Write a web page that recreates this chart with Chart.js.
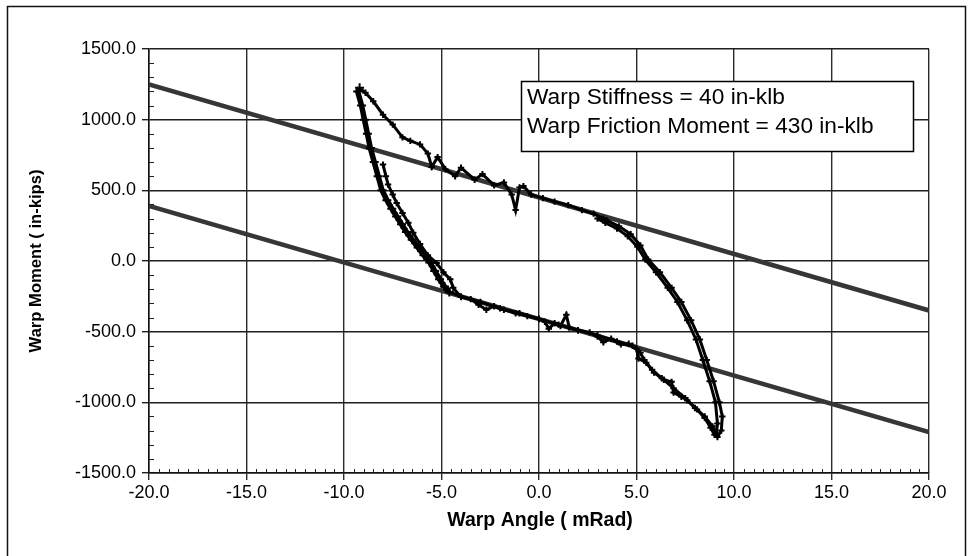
<!DOCTYPE html>
<html>
<head>
<meta charset="utf-8">
<script src="https://cdn.jsdelivr.net/npm/chart.js@4.4.1/dist/chart.umd.min.js"></script>
<style>
  html, body { margin: 0; padding: 0; background: #ffffff; }
  #wrap { width: 974px; height: 556px; position: relative; }
</style>
</head>
<body>
<div id="wrap"><canvas id="c" width="974" height="556"></canvas></div>
<script>
// ---- Data ----
const xTickValues = [-20, -15, -10, -5, 0, 5, 10, 15, 20];
const yTickValues = [-1500, -1000, -500, 0, 500, 1000, 1500];

// Model lines: stiffness 40 in-klb, friction moment 430 in-klb
const modelX = [-20, 20];
const upperModelY = [1250, -350];
const lowerModelY = [390, -1210];

// Measured hysteresis loop (Warp Angle mRad, Warp Moment in-kips)
const loopX = [
  -8.0,-7.85,-7.74,-7.5,-7.3,-7.0,-6.7,-6.45,-6.1,-5.7,-5.25,-4.9,-4.55,-4.4,
  -4.0,-3.5,-3.1,-2.7,-2.3,-1.8,-1.2,-0.6,0.0,0.3,0.5,0.8,1.1,1.4,1.55,2.0,2.6,3.0,3.3,3.7,4.2,4.6,5.0,
  5.1,5.5,5.9,6.4,6.8,6.9,7.3,7.6,8.1,8.5,8.8,9.0,9.15,
  9.35,9.4,9.25,8.95,8.6,8.25,7.8,7.3,6.8,6.2,5.6,5.2,4.7,4.1,3.5,3.3,
  2.8,2.2,1.5,0.8,0.2,-0.4,-0.8,-1.0,-1.2,-1.4,-1.8,-2.3,-2.9,-3.3,-4.0,-4.3,-4.8,-5.2,-5.5,-5.7,
  -6.1,-6.6,-7.0,-7.5,-8.0,-8.5,-8.9,-9.2,
  -9.3,-9.1,-8.95,-8.8,-8.65,-8.45,-8.25,-8.05,-7.8,-7.55,-7.3,-7.05,-6.8,-6.5,-6.2,-5.9,-5.6,-5.35,-5.1,-4.85,-4.6,
  -4.0,-3.0,-2.0,-1.0,0.0,1.0,2.0,3.0,4.0,4.8,5.2,
  5.4,5.8,6.3,6.9,7.5,8.0,8.5,8.9,9.1,
  9.15,9.05,8.75,8.4,8.05,7.6,7.1,6.6,6.0,5.45,5.05,4.55,4.0,3.4,3.0
];
const loopY = [
  682,600,541,470,410,340,270,200,120,40,-15,-80,-130,-190,
  -255,-270,-310,-345,-320,-345,-370,-390,-410,-430,-480,-440,-460,-380,-470,-490,-505,-535,-575,-550,-590,-585,-620,
  -690,-720,-790,-840,-855,-930,-960,-985,-1050,-1110,-1180,-1230,-1245,
  -1200,-1100,-1000,-850,-700,-555,-420,-290,-190,-80,10,110,190,245,285,300,
  335,360,395,420,445,470,530,520,360,470,555,535,615,575,660,600,650,735,665,760,
  825,850,875,965,1035,1130,1190,1225,
  1200,1100,1000,900,800,700,600,500,430,370,315,260,205,150,95,40,-10,-70,-130,-180,-220,
  -250,-290,-335,-370,-410,-450,-490,-525,-570,-600,-650,
  -700,-770,-830,-900,-970,-1040,-1100,-1170,-1220,
  -1150,-1000,-850,-700,-555,-420,-290,-190,-80,10,100,175,230,270,300
];
// index range of the heavily over-plotted left branch (many repeated cycles)
const heavyStart = 93, heavyEnd = 114;

const legendLines = ['Warp Stiffness = 40 in-klb', 'Warp Friction Moment = 430 in-klb'];
const xTitle = 'Warp Angle ( mRad)';
const yTitle = 'Warp Moment ( in-kips)';

// ---- Build datasets ----
const toPts = (xs, ys) => xs.map((x, i) => ({ x: x, y: ys[i] }));
const inHeavy = i => i >= heavyStart && i <= heavyEnd;

const FONT = "'Liberation Sans', Arial, Helvetica, sans-serif";

const decor = {
  id: 'decor',
  beforeDraw(chart) {
    const ctx = chart.ctx;
    ctx.save();
    ctx.fillStyle = '#ffffff';
    ctx.fillRect(0, 0, chart.width, chart.height);
    ctx.restore();
  },
  afterDatasetsDraw(chart) {
    const ctx = chart.ctx;
    const xs = chart.scales.x, ys = chart.scales.y;
    const a = chart.chartArea;
    ctx.save();
    // minor ticks
    ctx.strokeStyle = '#222';
    ctx.lineWidth = 1;
    ctx.beginPath();
    for (let v = -1500; v <= 1500; v += 100) {
      if (v % 500 === 0) continue;
      const py = Math.round(ys.getPixelForValue(v)) + 0.5;
      ctx.moveTo(a.left, py); ctx.lineTo(a.left + 5, py);
    }
    for (let v = -20; v <= 20; v += 0.5) {
      if (Math.abs(v % 5) < 1e-9) continue;
      const px = Math.round(xs.getPixelForValue(v)) + 0.5;
      ctx.moveTo(px, a.bottom); ctx.lineTo(px, a.bottom - 4);
    }
    ctx.stroke();

    // legend / annotation box
    ctx.fillStyle = '#ffffff';
    ctx.fillRect(521, 81, 393, 71);
    ctx.strokeStyle = '#000';
    ctx.lineWidth = 1.5;
    ctx.strokeRect(521.5, 81.5, 392, 70);
    ctx.fillStyle = '#000';
    ctx.font = '22.7px ' + FONT;
    ctx.textAlign = 'left';
    ctx.textBaseline = 'alphabetic';
    ctx.fillText(legendLines[0], 527, 104);
    ctx.fillText(legendLines[1], 527, 133);

    // axis titles
    ctx.font = 'bold 19.5px ' + FONT;
    ctx.textAlign = 'center';
    ctx.textBaseline = 'middle';
    ctx.fillText(xTitle, 540, 521);
    ctx.save();
    ctx.translate(36, 261);
    ctx.rotate(-Math.PI / 2);
    ctx.font = 'bold 16.6px ' + FONT;
    ctx.fillText(yTitle, 0, 0);
    ctx.restore();

    // outer frame
    ctx.strokeStyle = '#111';
    ctx.lineWidth = 1.5;
    ctx.strokeRect(7.5, 6.5, 958, 600);
    ctx.restore();
  }
};

new Chart(document.getElementById('c'), {
  type: 'scatter',
  data: {
    datasets: [
      {
        label: 'Upper model',
        data: toPts(modelX, upperModelY),
        showLine: true,
        borderColor: '#363636',
        borderWidth: 4.5,
        pointRadius: 0,
        order: 2
      },
      {
        label: 'Lower model',
        data: toPts(modelX, lowerModelY),
        showLine: true,
        borderColor: '#363636',
        borderWidth: 4.5,
        pointRadius: 0,
        order: 2
      },
      {
        label: 'Test',
        data: toPts(loopX, loopY),
        showLine: true,
        borderColor: '#000',
        borderWidth: 3,
        segment: {
          borderWidth: c => inHeavy(c.p0DataIndex) && inHeavy(c.p1DataIndex) ? 5.5 : 3
        },
        pointStyle: 'cross',
        pointRadius: c => inHeavy(c.dataIndex) ? 4.5 : 3.2,
        pointBorderWidth: 2,
        pointBorderColor: '#000',
        pointBackgroundColor: '#000',
        tension: 0,
        order: 1
      }
    ]
  },
  options: {
    responsive: false,
    animation: false,
    devicePixelRatio: 1,
    layout: { padding: { left: 0, right: 45, top: 49, bottom: 0 } },
    plugins: { legend: { display: false }, tooltip: { enabled: false } },
    scales: {
      x: {
        type: 'linear',
        min: -20, max: 20,
        afterFit(s) { s.height = 83; },
        afterBuildTicks(s) { s.ticks = xTickValues.map(v => ({ value: v })); },
        ticks: {
          color: '#000',
          font: { family: FONT, size: 18 },
          padding: 2,
          maxRotation: 0,
          callback: v => Number(v).toFixed(1)
        },
        grid: { color: '#2a2a2a', lineWidth: 1.4, tickLength: 7, drawTicks: true },
        border: { color: '#111', width: 1.5 }
      },
      y: {
        type: 'linear',
        min: -1500, max: 1500,
        afterFit(s) { s.width = 149; },
        afterBuildTicks(s) { s.ticks = yTickValues.map(v => ({ value: v })); },
        ticks: {
          color: '#000',
          font: { family: FONT, size: 18 },
          padding: 6,
          callback: v => Number(v).toFixed(1)
        },
        grid: { color: '#1e1e1e', lineWidth: 1.4, tickLength: 7, drawTicks: true },
        border: { color: '#111', width: 1.5 }
      }
    }
  },
  plugins: [decor]
});
</script>
</body>
</html>
